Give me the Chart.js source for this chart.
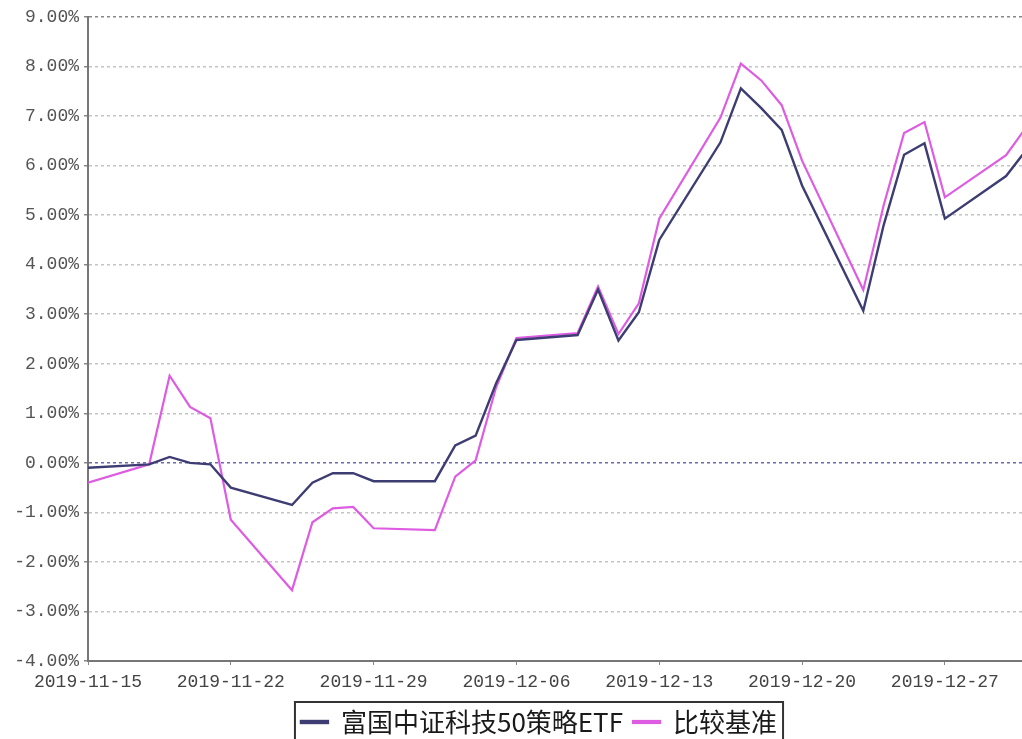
<!DOCTYPE html>
<html>
<head>
<meta charset="utf-8">
<script src="https://cdn.jsdelivr.net/npm/chart.js@4.4.1/dist/chart.umd.min.js"></script>
<style>
    html, body { margin: 0; padding: 0; background: #fff; }
</style>
</head>
<body>
<canvas id="myChart" width="1022" height="739"></canvas>
<script>
// trading days shown on the chart
const dates = [
    '2019-11-15', '2019-11-18', '2019-11-19', '2019-11-20', '2019-11-21', '2019-11-22',
    '2019-11-25', '2019-11-26', '2019-11-27', '2019-11-28', '2019-11-29',
    '2019-12-02', '2019-12-03', '2019-12-04', '2019-12-05', '2019-12-06',
    '2019-12-09', '2019-12-10', '2019-12-11', '2019-12-12', '2019-12-13',
    '2019-12-16', '2019-12-17', '2019-12-18', '2019-12-19', '2019-12-20',
    '2019-12-23', '2019-12-24', '2019-12-25', '2019-12-26', '2019-12-27',
    '2019-12-30', '2019-12-31'
];

// cumulative return, %
const etfValues = [
    -0.10, -0.03, 0.12, 0.00, -0.03, -0.50,
    -0.85, -0.40, -0.21, -0.21, -0.37,
    -0.37, 0.35, 0.55, 1.60, 2.48,
    2.58, 3.50, 2.47, 3.04, 4.50,
    6.47, 7.56, 7.16, 6.72, 5.60,
    3.07, 4.80, 6.22, 6.45, 4.93,
    5.79, 6.32
];

const benchValues = [
    -0.40, -0.03, 1.76, 1.13, 0.90, -1.15,
    -2.57, -1.20, -0.92, -0.89, -1.32,
    -1.36, -0.28, 0.05, 1.52, 2.52,
    2.62, 3.56, 2.60, 3.22, 4.93,
    6.97, 8.06, 7.72, 7.22, 6.10,
    3.49, 5.20, 6.66, 6.88, 5.36,
    6.21, 6.78
];

const seriesNames = ['富国中证科技50策略ETF', '比较基准'];

const xTickLabels = ['2019-11-15', '2019-11-22', '2019-11-29', '2019-12-06', '2019-12-13', '2019-12-20', '2019-12-27'];
const xEnd = '2019-12-30';
const yMin = -4;
const yMax = 9;

// days from the first date
const dayMs = 86400000;
const startMs = Date.parse(dates[0] + 'T00:00:00Z');
function dayOffset(d) {
    return (Date.parse(d + 'T00:00:00Z') - startMs) / dayMs;
}
function dayLabel(v) {
    return new Date(startMs + v * dayMs).toISOString().split('T')[0];
}

const etfPoints = dates.map((d, i) => ({ x: dayOffset(d), y: etfValues[i] }));
const benchPoints = dates.map((d, i) => ({ x: dayOffset(d), y: benchValues[i] }));

const tickFont = { family: '"Liberation Mono", monospace', size: 18 };

// legend sits a bit right of the canvas centre, with a frame round it
const legendFrame = {
    id: 'legendFrame',
    afterLayout(chart) {
        if (chart.legend) chart.legend.left += 56;
    },
    afterDraw(chart) {
        const lg = chart.legend;
        if (!lg || !lg.legendHitBoxes.length) return;
        const boxes = lg.legendHitBoxes;
        const left = Math.min(...boxes.map(b => b.left)) - 6;
        const right = Math.max(...boxes.map(b => b.left + b.width)) + 6;
        const ctx = chart.ctx;
        ctx.save();
        ctx.strokeStyle = '#333';
        ctx.lineWidth = 2;
        ctx.strokeRect(left, lg.top + 3, right - left, chart.height);
        ctx.restore();
    }
};

new Chart(document.getElementById('myChart'), {
    type: 'line',
    data: {
        datasets: [{
            label: seriesNames[0],
            data: etfPoints,
            borderColor: '#3d3d73',
            backgroundColor: '#3d3d73',
            borderWidth: 2.4,
            pointRadius: 0,
            tension: 0
        }, {
            label: seriesNames[1],
            data: benchPoints,
            borderColor: '#de5ce2',
            backgroundColor: '#de5ce2',
            borderWidth: 2.2,
            pointRadius: 0,
            tension: 0
        }]
    },
    options: {
        responsive: false,
        animation: false,
        devicePixelRatio: 1,
        layout: {
            padding: { top: 17, left: 0, right: 0, bottom: -6 }
        },
        plugins: {
            tooltip: { enabled: false },
            legend: {
                position: 'bottom',
                labels: {
                    boxWidth: 27,
                    boxHeight: 2,
                    padding: 10,
                    color: '#1a1a1a',
                    font: { family: '"Noto Sans CJK SC", sans-serif', size: 26 }
                }
            }
        },
        scales: {
            x: {
                type: 'linear',
                min: 0,
                max: dayOffset(xEnd) + 0.78,
                afterFit(scale) {
                    scale.height = 38;
                    scale.paddingLeft = 0;
                    scale.paddingRight = 0;
                },
                afterBuildTicks(scale) {
                    scale.ticks = xTickLabels.map(d => ({ value: dayOffset(d) }));
                },
                ticks: {
                    autoSkip: false,
                    maxRotation: 0,
                    padding: 6,
                    color: '#444',
                    font: tickFont,
                    callback: (v) => dayLabel(v)
                },
                grid: {
                    drawOnChartArea: false,
                    drawTicks: true,
                    tickLength: 4,
                    tickColor: '#888'
                },
                border: { color: '#777', width: 2 }
            },
            y: {
                min: yMin,
                max: yMax,
                afterFit(scale) {
                    scale.width = 88;
                    scale.paddingTop = 0;
                    scale.paddingBottom = 0;
                },
                ticks: {
                    stepSize: 1,
                    padding: 5,
                    color: '#555',
                    font: tickFont,
                    callback: (v) => v.toFixed(2) + '%'
                },
                grid: {
                    tickLength: 4,
                    lineWidth: 1.5,
                    color: (c) => {
                        if (!c.tick) return '#c4c4c4';
                        if (c.tick.value === 0) return '#6a6aae';
                        if (c.tick.value === yMax) return '#888';
                        return '#c4c4c4';
                    },
                    tickColor: '#888'
                },
                border: { color: '#777', width: 2, dash: [3, 3] }
            }
        }
    },
    plugins: [legendFrame]
});
</script>
</body>
</html>
